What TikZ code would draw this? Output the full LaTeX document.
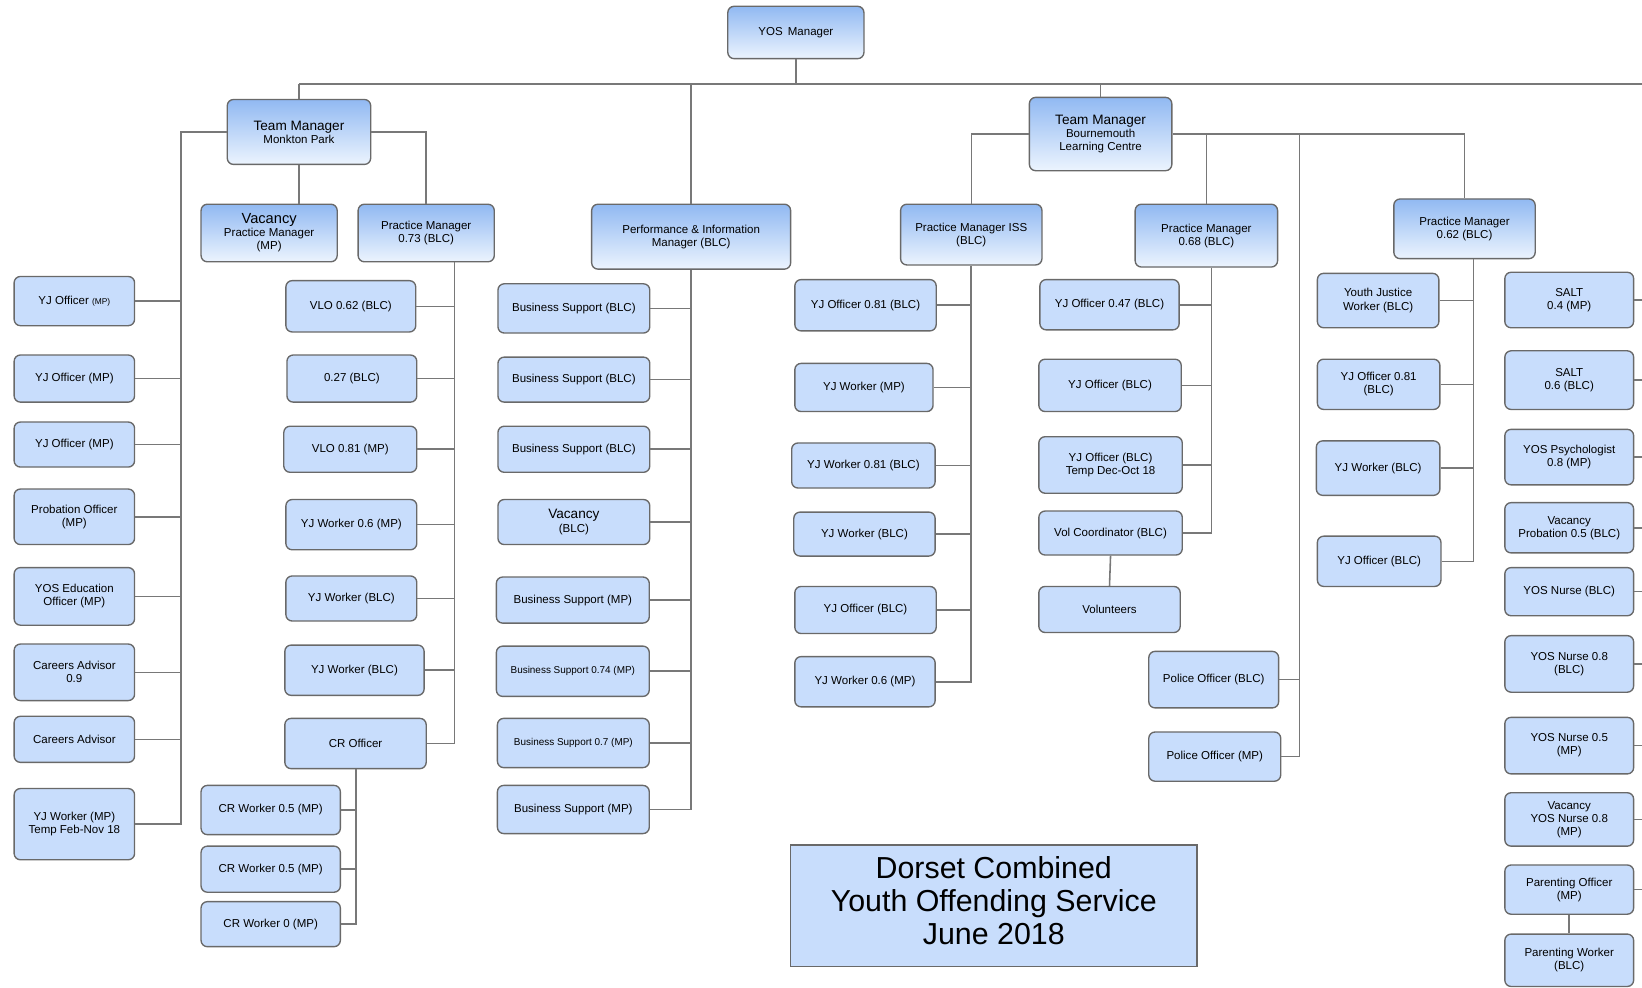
\documentclass[tikz,border=0pt]{standalone}
\usepackage{fontspec}
\setmainfont{Liberation Sans}
\definecolor{boxblue}{RGB}{200,221,252}
\definecolor{gradtop}{RGB}{145,185,242}
\definecolor{gradbot}{RGB}{236,244,254}
\definecolor{bordergray}{RGB}{105,105,105}
\definecolor{linegray}{RGB}{120,120,120}
\newcommand{\nmf}{\fontsize{11}{12.5}\selectfont}
\newcommand{\smf}{\fontsize{9.5}{11}\selectfont}
\newcommand{\bgf}{\fontsize{13}{14}\selectfont}
\newcommand{\vcf}{\fontsize{14}{15}\selectfont}
\tikzset{
  box/.style={draw=bordergray, line width=1.3pt, rounded corners=6pt, fill=boxblue,
    align=center, inner sep=0pt, font=\nmf},
  mgr/.style={box, top color=gradtop, bottom color=gradbot, shading angle=0},
  conn/.style={draw=linegray, line width=1.5pt},
}
\newcommand{\bx}[6][box]{\node[#1, minimum width=#4pt, minimum height=#5pt] (#2) at #3 {#6};}
\begin{document}
\begin{tikzpicture}[x=1pt,y=-1pt]
\useasboundingbox (0,0) rectangle (1568,943);
% top level
\bx[mgr]{yos}{(760,31)}{130}{50}{YOS\, Manager}
\bx[mgr]{tmmp}{(285.5,126)}{137}{62}{{\bgf Team Manager}\\Monkton Park}
\bx[mgr]{pim}{(660,226)}{190}{62}{Performance \& Information\\Manager (BLC)}
\bx[mgr]{tmblc}{(1051,128)}{136}{70}{{\bgf Team Manager}\\Bournemouth\\Learning Centre}
\bx[mgr]{vacpm}{(257,222.5)}{130}{55}{{\vcf Vacancy}\\Practice Manager\\(MP)}
\bx[mgr]{pma}{(407,222.5)}{130}{55}{Practice Manager\\0.73 (BLC)}
\bx[mgr]{pmiss}{(927.5,224)}{135}{58}{Practice Manager ISS\\(BLC)}
\bx[mgr]{pmb}{(1152,225)}{136}{60}{Practice Manager\\0.68 (BLC)}
\bx[mgr]{pmc}{(1398.5,218.5)}{135}{57}{Practice Manager\\0.62 (BLC)}
% left column
\bx{l1}{(71,287.5)}{115}{47}{YJ Officer {\fontsize{8}{9}\selectfont(MP)}}
\bx{l2}{(71,361.5)}{115}{45}{YJ Officer (MP)}
\bx{l3}{(71,424.5)}{115}{43}{YJ Officer (MP)}
\bx{l4}{(71,493.5)}{115}{53}{Probation Officer\\(MP)}
\bx{l5}{(71,569.5)}{115}{55}{YOS Education\\Officer (MP)}
\bx{l6}{(71,642)}{115}{54}{Careers Advisor\\0.9}
\bx{l7}{(71,706)}{115}{44}{Careers Advisor}
\bx{l8}{(71,787)}{115}{68}{YJ Worker (MP)\\Temp Feb-Nov 18}
% PM 0.73 column
\bx{v1}{(335,292.5)}{124}{49}{VLO 0.62 (BLC)}
\bx{v2}{(336,361.5)}{124}{45}{0.27 (BLC)}
\bx{v3}{(334.5,429)}{127}{44}{VLO 0.81 (MP)}
\bx{v4}{(335.5,501)}{125}{48}{YJ Worker 0.6 (MP)}
\bx{v5}{(335.5,571.5)}{125}{43}{YJ Worker (BLC)}
\bx{v6}{(338.5,640)}{133}{48}{YJ Worker (BLC)}
\bx{v7}{(339.5,710)}{135}{48}{CR Officer}
\bx{c1}{(258.5,773.5)}{133}{47}{CR Worker 0.5 (MP)}
\bx{c2}{(258.5,830)}{133}{44}{CR Worker 0.5 (MP)}
\bx{c3}{(258.5,882.5)}{133}{43}{CR Worker 0 (MP)}
% PIM column
\bx{b1}{(548,294.5)}{145}{47}{Business Support (BLC)}
\bx{b2}{(548,362.5)}{145}{43}{Business Support (BLC)}
\bx{b3}{(548,429)}{145}{44}{Business Support (BLC)}
\bx{b4}{(548,498.5)}{145}{43}{{\bgf Vacancy}\\(BLC)}
\bx{b5}{(547,573)}{146}{44}{Business Support (MP)}
\bx{b6}{(547,641)}{146}{48}{{\smf Business Support 0.74 (MP)}}
\bx{b7}{(547.5,709.5)}{145}{47}{{\smf Business Support 0.7 (MP)}}
\bx{b8}{(547.5,773)}{145}{46}{Business Support (MP)}
% PM ISS column
\bx{i1}{(826.5,291.5)}{135}{49}{YJ Officer 0.81 (BLC)}
\bx{i2}{(825,370)}{132}{46}{YJ Worker (MP)}
\bx{i3}{(824.5,444.5)}{137}{43}{YJ Worker 0.81 (BLC)}
\bx{i4}{(825.5,510)}{135}{42}{YJ Worker (BLC)}
\bx{i5}{(826.5,582.5)}{135}{45}{YJ Officer (BLC)}
\bx{i6}{(826,651)}{134}{48}{YJ Worker 0.6 (MP)}
% PM 0.68 column
\bx{p1}{(1059.5,291)}{133}{48}{YJ Officer 0.47 (BLC)}
\bx{p2}{(1060,368)}{136}{50}{YJ Officer (BLC)}
\bx{p3}{(1060.5,444)}{137}{54}{YJ Officer (BLC)\\Temp Dec-Oct 18}
\bx{p4}{(1060.5,509)}{137}{42}{Vol Coordinator (BLC)}
\bx{p5}{(1059.5,582)}{135}{44}{Volunteers}
% police
\bx{po1}{(1159,649)}{124}{54}{Police Officer (BLC)}
\bx{po2}{(1160,722.5)}{126}{47}{Police Officer (MP)}
% PM 0.62 column
\bx{q1}{(1316,287)}{116}{52}{Youth Justice\\Worker (BLC)}
\bx{q2}{(1316.5,367)}{117}{48}{YJ Officer 0.81\\(BLC)}
\bx{q3}{(1316,447)}{118}{52}{YJ Worker (BLC)}
\bx{q4}{(1317,536)}{118}{48}{YJ Officer (BLC)}
% right column
\bx{r1}{(1498.5,286.5)}{123}{53}{SALT\\0.4 (MP)}
\bx{r2}{(1498.5,363)}{123}{56}{SALT\\0.6 (BLC)}
\bx{r3}{(1498.5,436.5)}{123}{53}{YOS Psychologist\\0.8 (MP)}
\bx{r4}{(1498.5,504)}{123}{48}{Vacancy\\Probation 0.5 (BLC)}
\bx{r5}{(1498.5,565)}{123}{46}{YOS Nurse (BLC)}
\bx{r6}{(1498.5,634)}{123}{54}{YOS Nurse 0.8\\(BLC)}
\bx{r7}{(1498.5,712)}{123}{54}{YOS Nurse 0.5\\(MP)}
\bx{r8}{(1498.5,782.5)}{123}{51}{Vacancy\\YOS Nurse 0.8\\(MP)}
\bx{r9}{(1498.5,849.5)}{123}{47}{Parenting Officer\\(MP)}
\bx{r10}{(1498.5,917)}{123}{50}{Parenting Worker\\(BLC)}
% title
\node[draw=bordergray, line width=1.3pt, fill=boxblue, minimum width=388pt, minimum height=116pt,
  align=center, inner sep=0pt, font=\fontsize{29}{31.5}\selectfont] (title) at (949,865)
  {Dorset Combined\\Youth Offending Service\\June 2018\rule[-11pt]{0pt}{0pt}};
% spine coordinates
\coordinate (bus) at (0,80);
\coordinate (busend) at (1568,80);
\coordinate (edge) at (1568,0);
\coordinate (s1) at (173,0);
\coordinate (s2) at (434,0);
\coordinate (s3) at (340,0);
\coordinate (s4) at (660,0);
\coordinate (s5) at (927,0);
\coordinate (s6) at (1157,0);
\coordinate (s7) at (1241,0);
\coordinate (s8) at (1407,0);
% top connectors
\draw[conn] (yos.south) -- (yos.south |- bus);
\draw[conn] (tmmp.north |- bus) -- (busend);
\draw[conn] (tmmp.north) -- (tmmp.north |- bus);
\draw[conn] (pim.north) -- (pim.north |- bus);
\draw[conn] (tmblc.north) -- (tmblc.north |- bus);
% Monkton Park
\draw[conn] (tmmp.south) -- (tmmp.south |- vacpm.north);
\draw[conn] (tmmp.east) -| (pma.north);
\draw[conn] (tmmp.west) -| (s1 |- l8.east) -- (l8.east);
\foreach \n in {l1,l2,l3,l4,l5,l6,l7} \draw[conn] (\n.east) -- (s1 |- \n.east);
\draw[conn] (s2 |- pma.south) -- (s2 |- v7.east) -- (v7.east);
\foreach \n in {v1,v2,v3,v4,v5,v6} \draw[conn] (\n.east) -- (s2 |- \n.east);
\draw[conn] (s3 |- v7.south) -- (s3 |- c3.east) -- (c3.east);
\foreach \n in {c1,c2} \draw[conn] (\n.east) -- (s3 |- \n.east);
% PIM
\draw[conn] (pim.south) -- (s4 |- b8.east) -- (b8.east);
\foreach \n in {b1,b2,b3,b4,b5,b6,b7} \draw[conn] (\n.east) -- (s4 |- \n.east);
% BLC
\draw[conn] (tmblc.west) -| (pmiss.north);
\draw[conn] (tmblc.east) -| (pmc.north);
\draw[conn] (pmb.north) -- (pmb.north |- tmblc.east);
\draw[conn] (s5 |- pmiss.south) -- (s5 |- i6.east) -- (i6.east);
\foreach \n in {i1,i2,i3,i4,i5} \draw[conn] (\n.east) -- (s5 |- \n.east);
\draw[conn] (s6 |- pmb.south) -- (s6 |- p4.east) -- (p4.east);
\foreach \n in {p1,p2,p3} \draw[conn] (\n.east) -- (s6 |- \n.east);
\draw[conn] (p4.south) -- (p5.north);
\draw[conn] (s7 |- tmblc.east) -- (s7 |- po2.east) -- (po2.east);
\draw[conn] (po1.east) -- (s7 |- po1.east);
\draw[conn] (s8 |- pmc.south) -- (s8 |- q4.east) -- (q4.east);
\foreach \n in {q1,q2,q3} \draw[conn] (\n.east) -- (s8 |- \n.east);
\foreach \n in {r1,r2,r3,r4,r5,r6,r7,r8,r9} \draw[conn] (\n.east) -- (edge |- \n.east);
\draw[conn] (r9.south) -- (r10.north);
\end{tikzpicture}
\end{document}
